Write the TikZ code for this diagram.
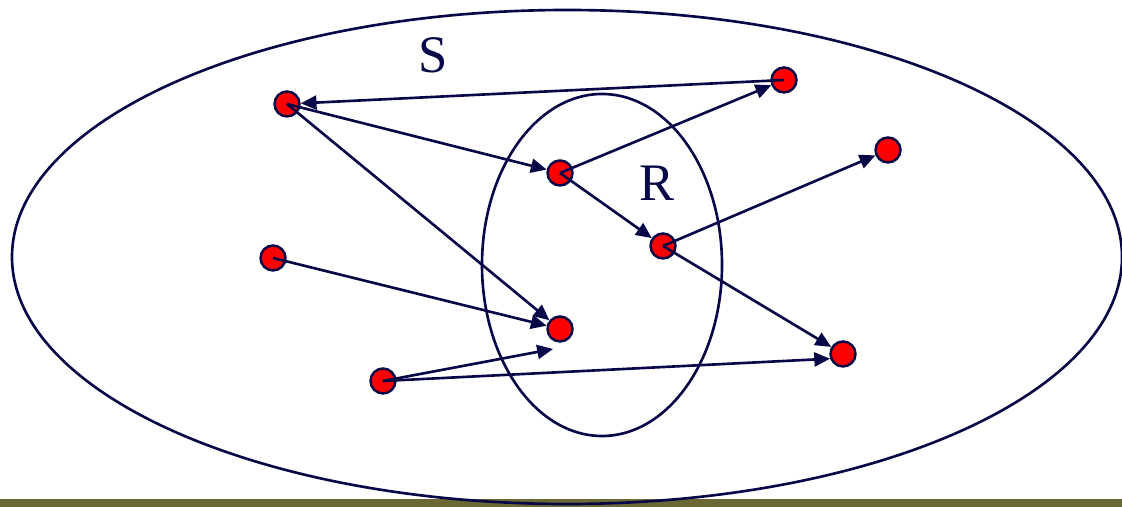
\documentclass[tikz,border=0pt]{standalone}
\usepackage{fontspec}
\setmainfont{Liberation Serif}
\usepackage{tikz}
\usetikzlibrary{arrows.meta, positioning}
\definecolor{inknavy}{RGB}{8,8,72}
\definecolor{dotred}{RGB}{255,0,0}
\definecolor{barolive}{RGB}{106,104,52}

\tikzset{
    elem/.style={circle, draw=inknavy, line width=1.4pt, fill=dotred, minimum size=0.5cm, inner sep=0pt},
    link/.style={draw=inknavy, line width=1.5pt, -{Triangle[length=9pt, width=8pt]}},
    setlabel/.style={font=\fontsize{30}{30}\selectfont, text=inknavy}
}

\begin{document}
\begin{tikzpicture}
    \useasboundingbox (0,0) rectangle (22.44,10.14);
    % Bottom bar
    \fill[barolive] (0,0) rectangle (22.44,0.16);

    % Sets
    \draw[inknavy, line width=1.5pt] (11.34,5.00) ellipse [x radius=11.10, y radius=4.94];
    \draw[inknavy, line width=1.5pt] (12.04,4.84) ellipse [x radius=2.40, y radius=3.42];
    \node[setlabel] (lblS) at (8.66,9.04) {S};
    \node[setlabel] (lblR) at (13.14,6.48) {R};

    % Elements
    \node[elem] (a) at (5.74,8.06) {};
    \node[elem] (b) at (15.68,8.54) {};
    \node[elem] (c) at (11.20,6.68) {};
    \node[elem] (d) at (17.76,7.14) {};
    \node[elem] (e) at (13.26,5.22) {};
    \node[elem] (f) at (5.46,4.98) {};
    \node[elem] (g) at (11.20,3.56) {};
    \node[elem] (h) at (16.86,3.06) {};
    \node[elem] (i) at (7.66,2.52) {};
    \coordinate (gi) at (11.06,3.16);

    % Arrows
    \draw[link] (b.center) -- (a);
    \draw[link] (a.center) -- (c);
    \draw[link] (a.center) -- (g);
    \draw[link] (c.center) -- (b);
    \draw[link] (c.center) -- (e);
    \draw[link] (e.center) -- (d);
    \draw[link] (e.center) -- (h);
    \draw[link] (f.center) -- (g);
    \draw[link] (i.center) -- (gi);
    \draw[link] (i.center) -- (h.200);
\end{tikzpicture}
\end{document}
